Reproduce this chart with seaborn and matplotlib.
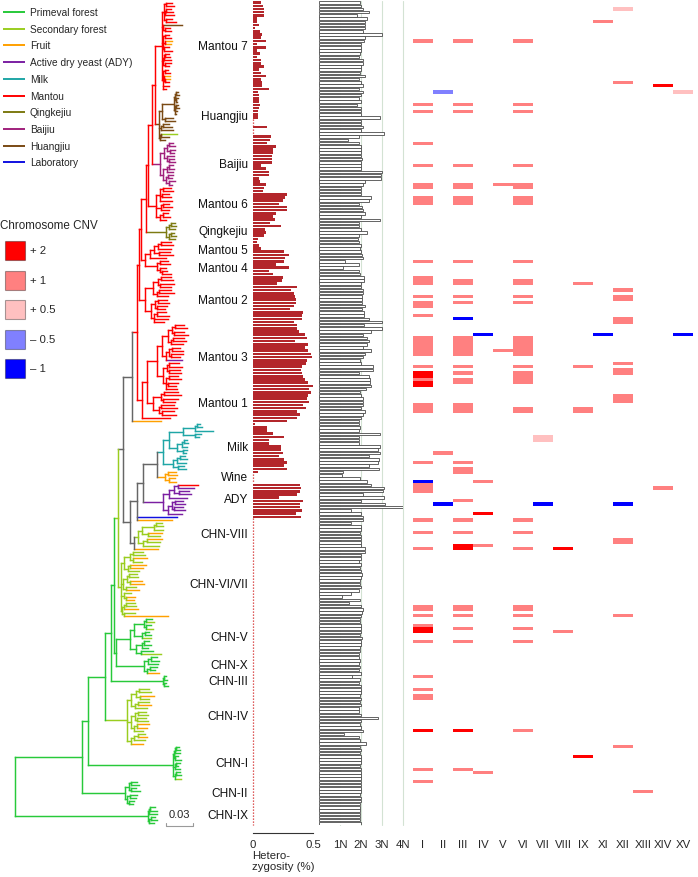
import numpy as np
import pandas as pd
import matplotlib
matplotlib.use("Agg")
import matplotlib.pyplot as plt
import seaborn as sns
from matplotlib.collections import LineCollection
from matplotlib.colors import ListedColormap
from matplotlib.patches import Rectangle

sns.set_style("white")
plt.rcParams["font.family"] = ["Liberation Sans", "DejaVu Sans"]

# ---------------------------------------------------------------- sources
SOURCE_CODES = ["P", "S", "F", "A", "K", "M", "Q", "B", "H", "L"]
SOURCE_NAMES = ["Primeval forest", "Secondary forest", "Fruit", "Active dry yeast (ADY)",
                "Milk", "Mantou", "Qingkejiu", "Baijiu", "Huangjiu", "Laboratory"]
SOURCE_COLORS = ["#27c93a", "#9acd1f", "#ffa000", "#7b1fa2", "#1fa6a6",
                 "#ff0000", "#7d7a12", "#a0207c", "#7a4a14", "#1010e0"]
BACKBONE_COLOR = "#666666"

# ---------------------------------------------------------------- tree (newick, branch lengths in 1/900 subst. per site)
MANTOU7 = ("(((M:6,M:8)M:2,((M:5,M:7)M:1,M:9)M:1,(M:6,M:10)M:2)M:2,(H:19,(M:5,M:6)M:2)M:1,"
           "((M:4,M:6)M:2,(F:7,F:6)M:2,(M:5,M:8)M:1)M:1,(((M:4,M:5)M:1,M:7)M:1,(M:6,M:4)M:2)M:1,"
           "((M:3,M:5)M:2,(F:6,(F:5,M:4)M:1)M:1,M:6,M:3)M:1)M|Mantou 7:7")
HUANGJIU = ("(((((H:2,H:3)H:1,(H:2,H:1)H:1)H:1,((H:2,H:3)H:1,H:2,H:1)H:1)H:12,(H:8,H:10)H:3)H:3,"
            "((H:6,H:9)H:2,H:12)H:2,((S:16,H:8)H:1,H:5)H:1)H|Huangjiu:4")
BAIJIU = ("((((B:4,B:6)B:2,(B:5,B:4)B:3)B:3,(B:7,(B:5,B:6)B:2)B:3)B:4,"
          "(((B:4,B:5)B:2,B:6)B:4,((B:5,B:4)B:2,(B:6,B:3)B:3)B:3)B:3)B|Baijiu:8")
MANTOU6 = "(((M:8,M:10)M:3,(M:7,M:9)M:2,M:12)M:4,((M:6,M:9)M:2,M:8)M:5,((M:5,M:7)M:3,M:6)M:4)M|Mantou 6:8"
QINGKEJIU = "(((Q:4,Q:5)Q:2,Q:6)Q:3,((Q:3,Q:5)Q:2,Q:6)Q:3)Q|Qingkejiu:20"
MANTOU5 = "((((M:10,M:12)M:3,M:13)M:4,(M:11,M:14)M:5)M:4,M:16)M|Mantou 5:5"
MANTOU4 = "((M:8,M:10)M:3,(M:6,(M:5,M:9)M:2)M:3)M|Mantou 4:12"
MANTOU2 = ("((((M:10,M:12)M:3,(M:14,M:11)M:2)M:5,((M:12,M:15)M:2,M:11)M:4)M:8,"
           "(((M:9,M:11)M:3,(M:10,M:8)M:2)M:4,((M:9,M:12)M:3,M:14,M:10)M:3)M:6)M|Mantou 2:6")
MANTOU3 = ("(((((M:9,M:12)M:3,(M:10,M:14)M:2)M:4,((M:11,M:13)M:2,M:12)M:3)M:6,"
           "(((M:8,M:11)M:3,(M:12,M:9)M:2)M:3,A:16)M:4)M:5,(((M:10,M:13)M:2,(M:11,M:12)M:2)M:4,"
           "((M:9,M:12)M:3,(M:10,M:8)M:2,M:11)M:3)M:6)M|Mantou 3:10")
MANTOU1 = "(((M:14,M:17)M:3,(M:15,M:12)M:2)M:8,((M:13,M:16)M:2,(M:12,M:14)M:3)M:6)M|Mantou 1:6"
MILK = ("(((((K:3,K:5)K:2,K:18)K:12,(K:6,K:4)K:12)K:14,(((K:3,K:4)K:2,K:5)K:5,(K:4,K:3)K:6)K:8)K:6,"
        "(((K:5,K:7)K:3,K:9)K:4,(K:6,K:8)K:5)K:10)K|Milk:6")
WINE = "((F:8,F:9)F:3,(F:6,F:7)F:4)F|Wine:8"
ADY = ("((((M:20,A:16)A:4,(A:10,A:12)A:5)A:5,A:18)A:6,"
       "(((A:8,A:10)A:3,(A:9,A:11)A:2)A:4,A:14)A:5)A|ADY:20")
CHN_VIII = "((((S:6,S:7)S:2,S:9)S:12,(F:14,S:12)S:6)S:4,((F:15,S:13)S:4,S:16)S:5)S|CHN-VIII:4"
CHN_VI_VII = ("((((S:10,S:12)S:3,(F:14,S:9)S:3)S:6,((F:16,F:13)S:2,S:11)S:4)S:3,"
              "(((S:8,S:9)S:2,(F:12,F:14)S:3)S:4,(S:10,F:13)S:3)S:2,(S:7,(F:9,F:8)S:2)S:3,"
              "(((S:9,S:10)S:2,F:14)S:2,(S:11,F:44)S:2)S:1)S|CHN-VI/VII:3")
CHN_V = ("((((P:6,S:8)P:2,(P:5,S:7)P:2)P:10,((P:4,P:6)P:3,S:9)P:8)P:4,"
         "(((P:5,P:7)P:2,P:6)P:6,(P:12,S:20)P:5)P:6)P|CHN-V:14")
CHN_X = "(((P:6,P:8)P:3,P:10)P:4,((P:7,P:5)P:3,F:12)P:3)P|CHN-X:28"
CHN_III = "((P:2,P:3)P:1,(P:2,P:4)P:1)P|CHN-III:52"
CHN_IV = ("((((S:10,S:12)S:3,(F:14,S:9)S:4)S:5,((S:11,F:13)S:3,S:12)S:4)S:4,"
          "(((S:8,S:10)S:3,(S:9,S:11)S:2)S:4,((F:12,F:10)S:3,S:9)S:3)S:4,"
          "(((S:7,F:9)S:4,S:11)S:3,F:12)S:4)S|CHN-IV:22")
CHN_I = ("((((P:3,P:4)P:1,P:5)P:1,(P:3,P:6)P:1)P:1,((P:4,P:2)P:1,P:5)P:2,"
         "((P:4,P:5)P:1,S:6)P:2)P|CHN-I:85")
CHN_II = "(((P:6,P:8)P:2,(P:5,P:9)P:2)P:4,((P:7,P:6)P:3,(P:5,P:4)P:2)P:2)P|CHN-II:43"
CHN_IX = "(((P:5,P:7)P:1,P:8)P:1,((P:4,P:6)P:2,P:5)P:1)P|CHN-IX:133"

U6 = f"({MANTOU7},{HUANGJIU})M:3"
U5 = f"({U6},{BAIJIU})M:4"
U4 = f"({U5},{MANTOU6})M:2"
U3 = f"({U4},{QINGKEJIU})M:5"
U2 = f"({U3},({MANTOU5},{MANTOU4})M:4)M:2"
U1 = f"({U2},{MANTOU2})M:2"
MANTOU = f"({U1},(({MANTOU3},{MANTOU1})M:5,M:28)M:5)M:5"
DOMESTIC = f"(({MANTOU},F:29)G:9,(((({MILK},{WINE})G:14,{ADY})G:6,L:40,F:35)G:7,({CHN_VIII},F:24)G:4)G:7)G:5"
TREE = (f"((((((({DOMESTIC},{CHN_VI_VII})S:4,({CHN_V},{CHN_X})P:2)P:3,{CHN_III})P:6,"
        f"{CHN_IV})P:17,{CHN_I})P:6,{CHN_II})P:67,{CHN_IX})P")
TREE_ROOT_X = 15
SCALE_BAR = 0.03
PX_PER_UNIT = 900

# ---------------------------------------------------------------- heterozygosity (%) per strain, top to bottom
HET = [
    # Mantou 7
    0.07, 0.085, 0.09, 0.095, 0.095, 0.035, 0.035, 0.05, 0.015, 0.06, 0.075, 0.07, 0.11, 0.03,
    0.105, 0.03, 0.06, 0.03, 0.07, 0.07, 0.095, 0.05, 0.07, 0.105, 0.07, 0.075, 0.075, 0.13,
    # Huangjiu
    0.045, 0.05, 0.05, 0.05, 0.06, 0.05, 0.045, 0.045, 0.04, 0, 0, 0.12, 0, 0, 0.15, 0.14,
    # Baijiu
    0.12, 0.195, 0.17, 0.17, 0.16, 0.16, 0.16, 0.07, 0.11, 0.135, 0.135, 0.05, 0.06, 0.105,
    # Mantou 6
    0.095, 0.085, 0.28, 0.27, 0.25, 0.215, 0.285, 0.28, 0.19, 0.17, 0.18,
    # Qingkejiu
    0.145, 0.23, 0.1, 0.105, 0.095, 0.04,
    # Mantou 5
    0.035, 0.05, 0.07, 0.26, 0.30, 0.27,
    # Mantou 4
    0.26, 0.19, 0.30, 0.13, 0.17,
    # Mantou 2
    0.25, 0.24, 0.2, 0.37, 0.32, 0.34, 0.35, 0.36, 0.36, 0.34, 0.31, 0.42, 0.41, 0.41, 0.34,
    # Mantou 3
    0.37, 0.37, 0.38, 0.43, 0.45, 0.35, 0.46, 0.43, 0.46, 0.48, 0.49, 0.45, 0.44, 0.41, 0.40,
    0.41, 0.42, 0.43, 0.46, 0.51, 0.47,
    # Mantou 1
    0.48, 0.46, 0.45, 0.47, 0.42, 0.44, 0.37, 0.39,
    # mantou / fruit singletons
    0.37, 0.28,
    # Milk
    0.014, 0.12, 0.12, 0.17, 0.26, 0.13, 0.13, 0.23, 0.23, 0.25, 0.22, 0.26, 0.28, 0.26, 0.28,
    # Wine
    0.04, 0, 0, 0,
    # ADY
    0.39, 0.40, 0.39, 0.37, 0.22, 0.42, 0.39, 0.39, 0.41, 0.36,
    # laboratory / fruit singletons
    0.40, 0,
    # CHN-VIII
    0, 0, 0, 0, 0, 0, 0, 0,
    # fruit singleton
    0,
    # CHN-VI/VII
    0, 0, 0, 0, 0, 0, 0, 0, 0, 0, 0, 0, 0, 0, 0, 0, 0, 0, 0, 0, 0,
    # CHN-V
    0, 0, 0, 0, 0, 0, 0, 0, 0, 0, 0, 0,
    # CHN-X
    0, 0, 0, 0, 0, 0,
    # CHN-III
    0, 0, 0, 0,
    # CHN-IV
    0, 0, 0, 0, 0, 0, 0, 0, 0, 0, 0, 0, 0, 0, 0, 0, 0, 0,
    # CHN-I
    0, 0, 0, 0, 0, 0, 0, 0, 0, 0, 0,
    # CHN-II
    0, 0, 0, 0, 0, 0, 0, 0,
    # CHN-IX
    0, 0, 0, 0, 0, 0,
]

# ---------------------------------------------------------------- ploidy (N) per strain, top to bottom
PLOIDY = [
    # Mantou 7
    1.95, 2.0, 2.1, 2.4, 1.8, 2.3, 2.2, 2.2, 2.2, 2.1, 3.0, 2.2, 2.15, 2.0, 2.0, 2.0, 1.95, 1.9,
    2.1, 2.1, 2.0, 2.0, 1.95, 2.2, 1.9, 2.0, 2.1, 1.9,
    # Huangjiu
    2.1, 2.0, 1.9, 2.0, 1.8, 2.0, 2.0, 2.0, 2.9, 2.0, 2.0, 2.1, 2.0, 3.1, 1.9, 1.4,
    # Baijiu
    1.9, 2.0, 2.0, 2.0, 2.0, 2.05, 2.0, 2.0, 2.0, 3.0, 2.95, 2.95, 2.2, 2.1,
    # Mantou 6
    2.0, 2.0, 2.0, 2.5, 2.4, 1.9, 2.05, 2.1, 2.2, 2.0, 2.9,
    # Qingkejiu
    1.9, 1.9, 2.0, 2.3, 1.9, 1.85,
    # Mantou 5
    1.9, 2.0, 1.95, 2.0, 2.05, 2.1,
    # Mantou 4
    1.25, 1.9, 1.15, 1.9, 1.95,
    # Mantou 2
    2.15, 2.15, 2.0, 2.0, 2.1, 2.1, 2.05, 2.05, 2.05, 2.2, 2.05, 2.15, 2.15, 2.4, 3.0,
    # Mantou 3
    2.15, 3.0, 2.5, 2.1, 2.3, 2.4, 2.3, 2.1, 2.5, 2.2, 2.1, 1.95, 2.0, 2.55, 2.55, 1.9, 2.4,
    2.45, 2.45, 2.5, 2.25,
    # Mantou 1
    1.95, 2.0, 2.1, 2.1, 2.1, 2.0, 2.2, 2.1,
    # singletons
    2.0, 1.9,
    # Milk
    1.9, 1.95, 1.9, 2.9, 1.9, 1.9, 1.9, 2.9, 2.8, 2.9, 2.4, 2.85, 2.8, 2.4, 2.85,
    # Wine
    1.15, 1.1, 1.95, 2.3,
    # ADY
    2.5, 3.1, 3.05, 2.1, 3.1, 2.0, 3.15, 4.0, 1.5, 2.0,
    # singletons
    2.1, 2.1,
    # CHN-VIII
    1.5, 2.0, 2.0, 1.95, 2.0, 2.0, 2.0, 2.0,
    # singleton
    2.2,
    # CHN-VI/VII
    2.2, 2.0, 2.0, 1.9, 2.0, 1.95, 2.0, 2.05, 2.0, 1.95, 1.95, 2.0, 1.9, 1.5, 1.1, 1.95, 1.45,
    2.0, 2.1, 2.05, 2.0,
    # CHN-V
    1.95, 1.95, 2.0, 2.0, 2.0, 1.95, 2.05, 2.0, 2.0, 1.95, 1.95, 1.9,
    # CHN-X
    1.9, 1.95, 1.9, 1.95, 1.9, 2.0,
    # CHN-III
    1.55, 1.95, 1.9, 2.0,
    # CHN-IV
    2.0, 2.0, 1.95, 2.0, 1.95, 2.0, 1.9, 1.9, 2.0, 2.8, 2.0, 1.95, 2.0, 2.1, 1.2, 1.9, 1.95, 2.25,
    # CHN-I
    1.95, 2.0, 1.95, 2.0, 2.0, 2.0, 1.95, 2.0, 2.0, 2.0, 2.0,
    # CHN-II
    2.0, 2.0, 2.0, 2.0, 1.95, 2.0, 2.0, 1.95,
    # CHN-IX
    1.95, 1.95, 1.95, 1.95, 1.95, 2.0,
]
PLOIDY_TICKS = ["1N", "2N", "3N", "4N"]

# ---------------------------------------------------------------- chromosome CNV: (first strain row, rows, chromosomes, copy change)
CHROMS = ["I", "II", "III", "IV", "V", "VI", "VII", "VIII", "IX", "XI", "XII", "XIII", "XIV", "XV"]
CNV_LEVELS = [-1, -0.5, 0.5, 1, 2]
CNV_LABELS = ["\u2013 1", "\u2013 0.5", "+ 0.5", "+ 1", "+ 2"]
CNV_COLORS = ["#0000ff", "#8080ff", "#ffc0c0", "#ff8080", "#ff0000"]
CNV_EVENTS = [
    (2, 1, "XII", 0.5), (6, 1, "XI", 1), (12, 1, "I III VI", 1), (25, 1, "XII", 1),
    (26, 1, "XIV", 2), (28, 1, "II", -0.5), (28, 1, "XV", 0.5), (32, 1, "I III VI", 1),
    (34, 1, "I III VI", 1), (44, 1, "I", 1), (51, 1, "I III VI", 1), (57, 2, "I III VI", 1),
    (57, 1, "V", 1), (61, 3, "I III VI", 1), (81, 1, "I III VI", 1), (86, 3, "I", 1),
    (87, 2, "III VI", 1), (88, 1, "IX", 1), (90, 1, "XII", 1), (92, 1, "I III VI", 1),
    (92, 2, "XII", 1), (94, 2, "I", 1), (94, 1, "III VI", 1), (98, 1, "I", 1),
    (99, 1, "III", -1), (99, 2, "XII", 1), (104, 1, "IV XI XV", -1), (105, 6, "I III VI", 1),
    (109, 1, "V", 1), (113, 1, "XII", 1), (114, 1, "I III VI IX", 1), (115, 2, "XII", 1),
    (116, 2, "I", 2), (118, 1, "I", 1), (119, 2, "I", 2), (116, 1, "III", 1), (118, 2, "III", 1),
    (116, 4, "VI", 1), (123, 3, "XII", 1), (126, 3, "I III", 1), (127, 2, "VI IX", 1),
    (136, 2, "VII", 0.5), (141, 1, "II", 1), (144, 1, "I III", 1), (146, 2, "III", 1),
    (150, 1, "IV", 1), (150, 1, "I", -1), (151, 3, "I", 1), (152, 1, "XIV", 1),
    (156, 1, "III", 1), (157, 1, "II VII XII", -1), (160, 1, "IV", 2), (162, 1, "I III VI", 1),
    (166, 1, "I III VI", 1), (168, 2, "XII", 1), (170, 2, "III", 2), (170, 1, "IV", 1),
    (171, 1, "I VI", 1), (171, 1, "VIII", 2), (189, 2, "I III VI", 1), (192, 1, "I III VI XII", 1),
    (195, 1, "I", 1), (196, 2, "I", 2), (196, 1, "III VI", 1), (197, 1, "VIII", 1),
    (200, 1, "I III VI", 1), (211, 1, "I", 1), (215, 1, "I", 1), (217, 2, "I", 1),
    (228, 1, "I III", 2), (228, 1, "VI", 1), (233, 1, "XII", 1), (236, 1, "IX", 2),
    (240, 1, "I III", 1), (241, 1, "IV", 1), (244, 1, "I", 1), (247, 1, "XIII", 1),
]


# ---------------------------------------------------------------- parse and lay out the tree
def parse_newick(s):
    pos = 0

    def node():
        nonlocal pos
        kids = []
        if s[pos] == "(":
            pos += 1
            kids.append(node())
            while s[pos] == ",":
                pos += 1
                kids.append(node())
            pos += 1
        start = pos
        while pos < len(s) and s[pos] not in ":,()":
            pos += 1
        code, _, name = s[start:pos].partition("|")
        length = 0.0
        if pos < len(s) and s[pos] == ":":
            pos += 1
            start = pos
            while pos < len(s) and s[pos] not in ",()":
                pos += 1
            length = float(s[start:pos])
        return {"kids": kids, "code": code, "name": name, "len": length}

    return node()


color_of = dict(zip(SOURCE_CODES, SOURCE_COLORS))
color_of["G"] = BACKBONE_COLOR
segments, seg_colors, leaves, clades = [], [], [], []


def place(nd, x_parent, code_parent):
    x = x_parent + nd["len"]
    code = nd["code"] or code_parent
    first = len(leaves)
    if nd["kids"]:
        ys = [place(k, x, code) for k in nd["kids"]]
        y = (ys[0] + ys[-1]) / 2
        segments.append([(x, ys[0]), (x, ys[-1])])
        seg_colors.append(color_of[code])
    else:
        y = len(leaves)
        leaves.append(code)
    if nd["len"] > 0:
        segments.append([(x_parent, y), (x, y)])
        seg_colors.append(color_of[code])
    if nd["name"]:
        clades.append((nd["name"], first, len(leaves) - 1))
    return y


place(parse_newick(TREE), TREE_ROOT_X, "P")
N = len(leaves)
assert len(HET) == N and len(PLOIDY) == N, (N, len(HET), len(PLOIDY))

# ---------------------------------------------------------------- figure
W, H = 698, 878
ROW_TOP, ROW_BOTTOM = 2, 826
fig = plt.figure(figsize=(W / 100, H / 100), dpi=100)


def rect(x0, x1):
    return [x0 / W, 1 - ROW_BOTTOM / H, (x1 - x0) / W, (ROW_BOTTOM - ROW_TOP) / H]


# tree
ax_tree = fig.add_axes(rect(0, 250))
ax_tree.add_collection(LineCollection(segments, colors=seg_colors, linewidths=1.05,
                                      capstyle="projecting"))
ax_tree.set_xlim(0, 250)
ax_tree.set_ylim(N - 0.5, -0.5)
ax_tree.axis("off")
for name, a, b in clades:
    ax_tree.text(248, (a + b) / 2, name, ha="right", va="center", fontsize=8.6, color="#111111")

rows = pd.DataFrame({"row": np.arange(N), "het": HET, "ploidy": PLOIDY})

# heterozygosity
ax_het = fig.add_axes(rect(253, 313))
sns.barplot(data=rows, x="het", y="row", orient="h", color="#b3262b", saturation=1,
            width=0.8, linewidth=0, errorbar=None, ax=ax_het)
zero = rows["het"].to_numpy() == 0
start = None
for i in range(N + 1):
    if i < N and zero[i]:
        start = i if start is None else start
    elif start is not None:
        ax_het.vlines(0, start - 0.5, i - 0.5, colors="#d42a2a", linestyles=(0, (1, 1.4)),
                      linewidth=0.9, clip_on=False)
        start = None
ax_het.set_xlim(0, 0.5)
ax_het.set_ylim(N - 0.5, -0.5)
ax_het.set_yticks([])
ax_het.set_xlabel("")
ax_het.set_ylabel("")
for side in ["left", "top", "right"]:
    ax_het.spines[side].set_visible(False)
ax_het.spines["bottom"].set_position(("outward", 6))
ax_het.spines["bottom"].set_color("#333333")
ax_het.spines["bottom"].set_linewidth(0.8)
ax_het.set_xticks([0, 0.25, 0.5])
ax_het.set_xticklabels(["0", "", "0.5"])
ax_het.tick_params(axis="x", direction="in", length=3.5, width=0.8, color="#333333",
                   pad=4, labelsize=8.2)
fig.text(252 / W, 1 - 851 / H, "Hetero-\nzygosity (%)", ha="left", va="top", fontsize=8.2,
         linespacing=1.15)

# ploidy
ax_pl = fig.add_axes(rect(319, 403))
for k in range(1, 5):
    ax_pl.axvline(k, color="#d3e2d3", linewidth=0.8, zorder=0, clip_on=False)
sns.barplot(data=rows, x="ploidy", y="row", orient="h", color="white", edgecolor="#4a4a4a",
            linewidth=0.6, width=0.78, errorbar=None, ax=ax_pl)
ax_pl.set_xlim(0, 4)
ax_pl.set_ylim(N - 0.5, -0.5)
ax_pl.set_yticks([])
ax_pl.set_xlabel("")
ax_pl.set_ylabel("")
ax_pl.set_xticks([1, 2, 3, 4])
ax_pl.set_xticklabels(PLOIDY_TICKS)
ax_pl.tick_params(axis="x", length=0, pad=10, labelsize=8.2)
sns.despine(ax=ax_pl, left=True, bottom=True)

# chromosome CNV
cnv = np.full((N, len(CHROMS)), np.nan)
for row, n, chroms, level in CNV_EVENTS:
    for c in chroms.split():
        cnv[row:row + n, CHROMS.index(c)] = CNV_LEVELS.index(level)
ax_cnv = fig.add_axes(rect(413, 693))
sns.heatmap(cnv, ax=ax_cnv, cmap=ListedColormap(CNV_COLORS), vmin=-0.5, vmax=len(CNV_LEVELS) - 0.5,
            cbar=False, xticklabels=CHROMS, yticklabels=False)
ax_cnv.tick_params(axis="x", length=0, pad=10, labelsize=8.2, rotation=0)
ax_cnv.set_xlabel("")
ax_cnv.set_ylabel("")

# ---------------------------------------------------------------- legends and scale bar (pixel overlay)
lg = fig.add_axes([0, 0, 1, 1])
lg.set_xlim(0, W)
lg.set_ylim(H, 0)
lg.axis("off")

for i, (name, col) in enumerate(zip(SOURCE_NAMES, SOURCE_COLORS)):
    y = 13 + i * 16.7
    lg.plot([3, 25], [y, y], color=col, linewidth=1.4, solid_capstyle="butt")
    lg.text(30, y, name, ha="left", va="center", fontsize=7.3)

lg.text(0, 226, "Chromosome CNV", ha="left", va="center", fontsize=8.4)
for i, k in enumerate(range(len(CNV_LEVELS) - 1, -1, -1)):
    top = 242 + i * 29.5
    lg.add_patch(Rectangle((5, top), 20, 19, facecolor=CNV_COLORS[k],
                           edgecolor=(0, 0, 0, 0.35), linewidth=0.8))
    lg.text(30, top + 9.5, CNV_LABELS[k], ha="left", va="center", fontsize=8.2)

bar_x0, bar_y = 166, 827
bar_x1 = bar_x0 + SCALE_BAR * PX_PER_UNIT
lg.plot([bar_x0, bar_x1], [bar_y, bar_y], color="#9a9a9a", linewidth=0.8)
lg.plot([bar_x0, bar_x0], [bar_y - 3, bar_y], color="#9a9a9a", linewidth=0.8)
lg.plot([bar_x1, bar_x1], [bar_y - 3, bar_y], color="#9a9a9a", linewidth=0.8)
lg.text((bar_x0 + bar_x1) / 2, 815, f"{SCALE_BAR:.2f}", ha="center", va="center", fontsize=8)

fig.savefig("out.png", dpi=100)
